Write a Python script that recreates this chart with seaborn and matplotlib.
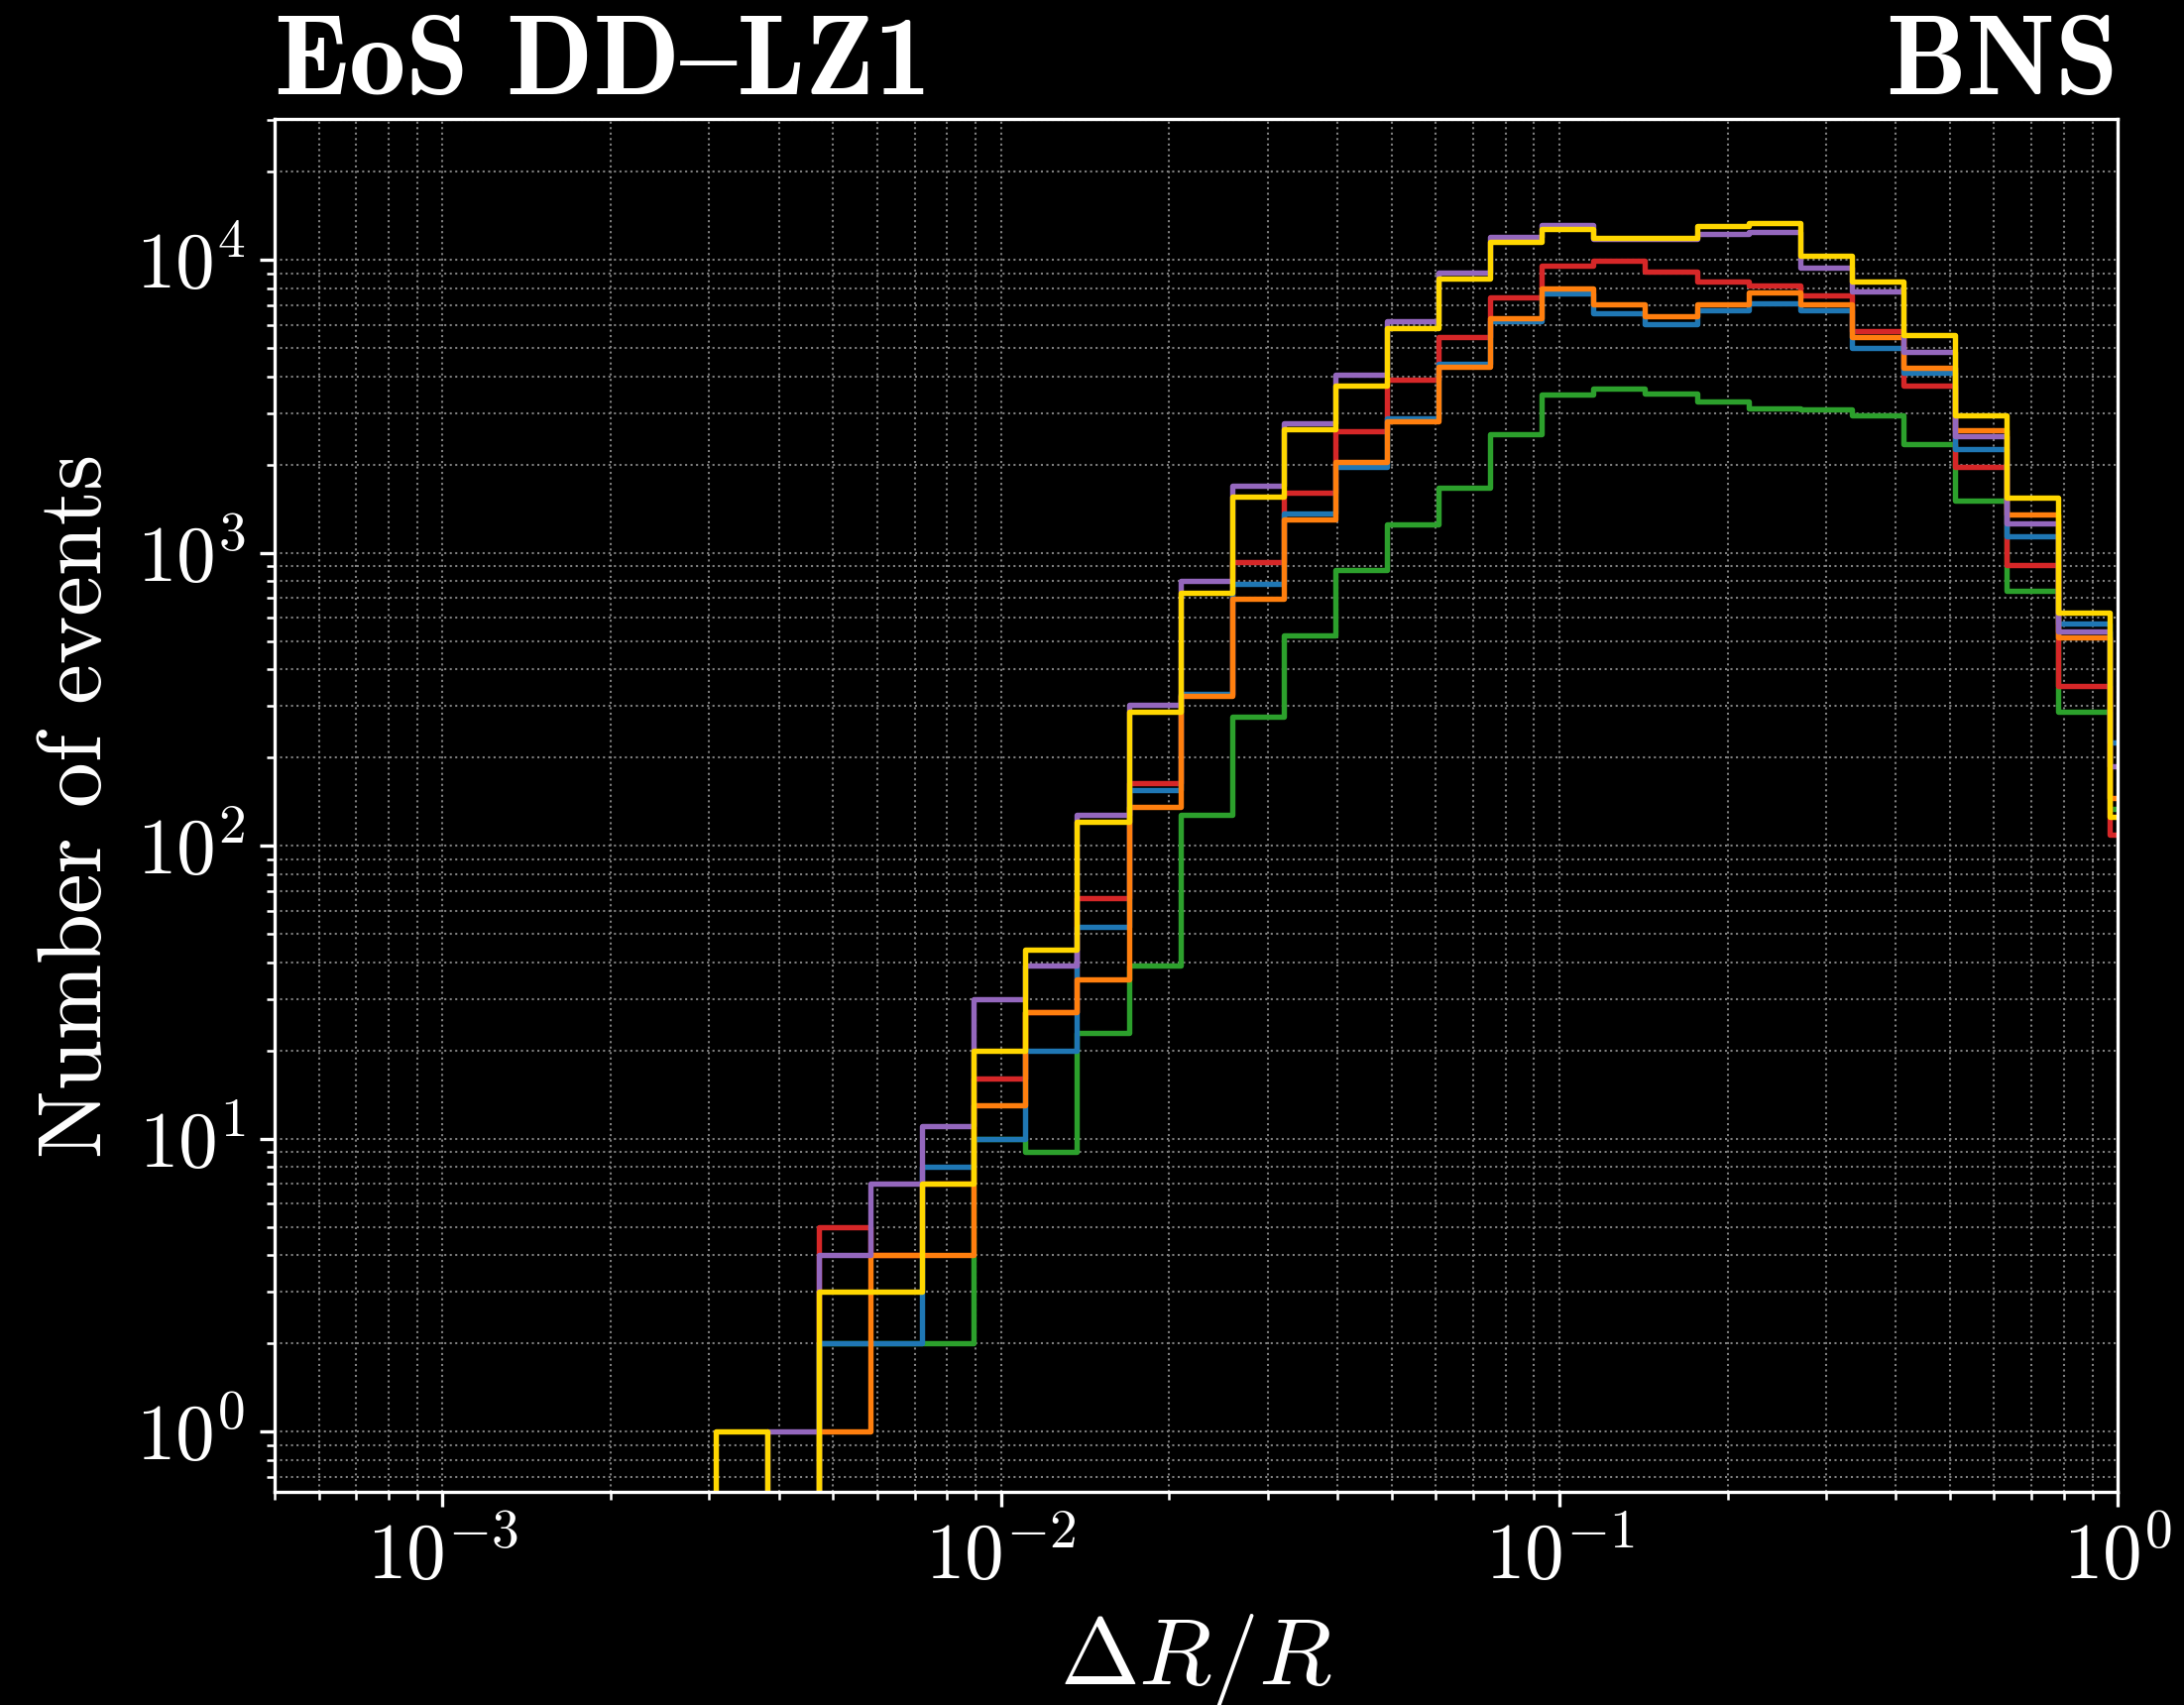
import numpy as np
import pandas as pd
import matplotlib
matplotlib.use("Agg")
import matplotlib.pyplot as plt
import seaborn as sns

# ---------------- data ----------------
# Histogram bin edges in log10(ΔR/R): 30 edges -> 29 bins (first bin empty)
log_edge_first = -2.6038
log_edge_step = 0.092472
n_edges = 30

series_names = ["S_green", "S_red", "S_blue", "S_orange", "S_purple", "S_gold"]
series_colors = ["#2ca02c", "#d62728", "#1f77b4", "#ff7f0e", "#9467bd", "#ffd700"]

# counts per bin (bins 1..28, after the empty leading bin)
counts_green = [0, 0, 2, 2, 2, 10, 9, 23, 39, 127, 275, 524, 874, 1251, 1671, 2536,
                3460, 3636, 3500, 3290, 3100, 3083, 2950, 2357, 1512, 742, 286, 134]
counts_red = [0, 0, 5, 4, 7, 16, 27, 66, 163, 327, 931, 1598, 2600, 3884, 5437, 7450,
              9580, 9950, 9090, 8450, 8150, 7580, 5725, 3713, 1965, 905, 352, 109]
counts_blue = [0, 0, 2, 2, 8, 10, 20, 53, 155, 330, 782, 1365, 1960, 2866, 4431, 6166,
               7680, 6580, 6030, 6700, 7100, 6700, 5003, 4100, 2253, 1140, 573, 225]
counts_orange = [0, 0, 1, 4, 4, 13, 27, 35, 136, 324, 696, 1295, 2043, 2808, 4318, 6327,
                 7990, 7020, 6400, 7020, 7720, 7020, 5440, 4263, 2612, 1353, 515, 145]
counts_purple = [0, 1, 4, 7, 11, 30, 39, 127, 302, 802, 1692, 2770, 4067, 6193, 9038, 11990,
                 13160, 11780, 11780, 12250, 12410, 9380, 7780, 4842, 2490, 1256, 537, 186]
counts_gold = [1, 0, 3, 3, 7, 20, 44, 121, 286, 729, 1548, 2638, 3733, 5848, 8630, 11480,
               12720, 11870, 11870, 13070, 13300, 10350, 8450, 5550, 2950, 1540, 625, 125]

all_counts = [counts_green, counts_red, counts_blue, counts_orange, counts_purple, counts_gold]

x_ticks = [1e-3, 1e-2, 1e-1, 1e0]
y_ticks = [1e0, 1e1, 1e2, 1e3, 1e4]

title_left = "EoS DD{LZ1"   # '{' is the en-dash glyph slot in the Computer Modern (OT1) font
title_right = "BNS"

# ---------------- build table ----------------
log_edges = log_edge_first + log_edge_step * np.arange(n_edges)
log_centers = 0.5 * (log_edges[:-1] + log_edges[1:])[1:]   # centres of the 28 filled bins
rows = []
for name, cnts in zip(series_names, all_counts):
    for lc, c in zip(log_centers, cnts):
        rows.append({"dR": 10 ** lc, "count": c, "series": name})
df = pd.DataFrame(rows)
bin_list = [float(v) for v in log_edges]

# ---------------- style ----------------
sns.set_theme(style="dark")
plt.rcParams.update({
    "font.family": "serif",
    "font.serif": ["cmr10"],
    "mathtext.fontset": "cm",
    "axes.formatter.use_mathtext": True,
    "axes.unicode_minus": True,
    "figure.facecolor": "black",
    "axes.facecolor": "black",
    "savefig.facecolor": "black",
    "axes.edgecolor": "white",
    "axes.labelcolor": "white",
    "text.color": "white",
    "xtick.color": "white",
    "ytick.color": "white",
    "xtick.direction": "out",
    "ytick.direction": "out",
    "xtick.bottom": True,
    "ytick.left": True,
    "xtick.minor.visible": True,
    "ytick.minor.visible": True,
})

fig = plt.figure(figsize=(2203 / 300, 1720 / 300), dpi=300)
ax = fig.add_axes([0.1257, 0.1250, 0.8441, 0.8052])

for name, col in zip(series_names, series_colors):
    sub = df[df["series"] == name]
    sns.histplot(data=sub, x="dR", weights="count", bins=bin_list,
                 element="step", fill=False, color=col, linewidth=1.3,
                 log_scale=(True, True), ax=ax, legend=False)

ax.set_xscale("log")
ax.set_yscale("log")
ax.set_xlim(5e-4, 1.0)
ax.set_ylim(0.622, 30240)
ax.set_xticks(x_ticks)
ax.set_yticks(y_ticks)

ax.set_axisbelow(True)
ax.grid(True, which="both", linestyle=":", color="#7f7f7f", linewidth=0.5)

for sp in ax.spines.values():
    sp.set_color("white")
    sp.set_linewidth(0.8)
    sp.set_visible(True)

ax.tick_params(axis="both", which="major", length=3.5, width=0.8, labelsize=19,
               colors="white", pad=3.5)
ax.tick_params(axis="both", which="minor", length=2, width=0.6, colors="white")

ax.set_xlabel(r"$\Delta R/R$", fontsize=23, color="white")
ax.set_ylabel("Number of events", fontsize=22, color="white")

ax.set_title(title_left, loc="left", fontsize=27.5, color="white",
             family=["cmb10", "DejaVu Serif"])
ax.set_title(title_right, loc="right", fontsize=27.5, color="white",
             family=["cmb10", "DejaVu Serif"])

fig.savefig("out.png", dpi=300, facecolor="black")
